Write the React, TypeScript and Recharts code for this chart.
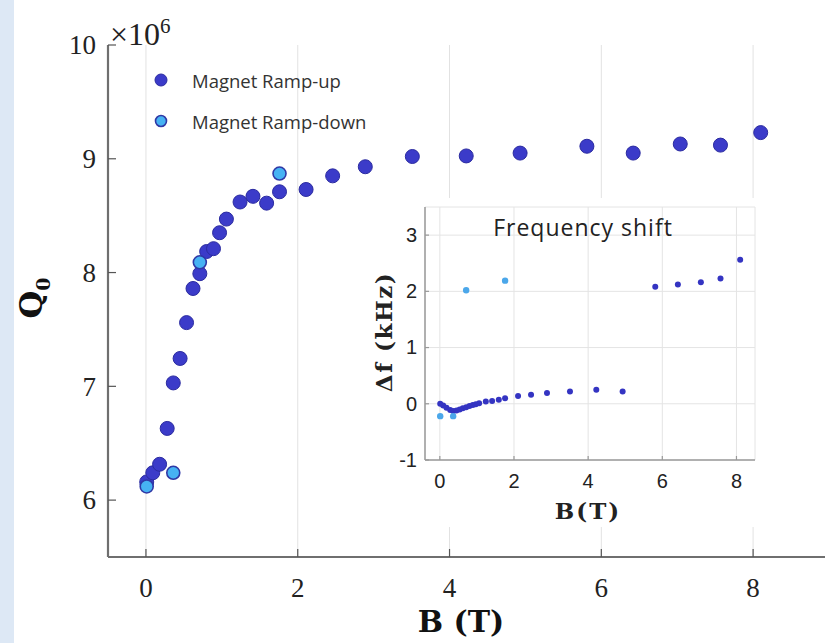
import React from 'react';
import { ScatterChart, Scatter, XAxis, YAxis, CartesianGrid } from 'recharts';

// magnetic field (T) for each measurement
const fieldUp = [0.01, 0.09, 0.18, 0.28, 0.36, 0.45, 0.535, 0.62, 0.71, 0.8, 0.89, 0.97, 1.06, 1.24, 1.41, 1.59, 1.76, 2.11, 2.46, 2.89, 3.51, 4.22, 4.93, 5.81, 6.42, 7.04, 7.57, 8.1];
const fieldDown = [0.01, 0.36, 0.71, 1.76];

// Q0 in units of 1e6
const qUp = [6.16, 6.24, 6.315, 6.63, 7.03, 7.245, 7.56, 7.86, 7.99, 8.185, 8.21, 8.35, 8.47, 8.62, 8.67, 8.61, 8.71, 8.73, 8.85, 8.93, 9.02, 9.025, 9.05, 9.11, 9.05, 9.13, 9.12, 9.23];
const qDown = [6.12, 6.24, 8.09, 8.87];

// frequency shift (kHz)
const shiftUp = [0, -0.03, -0.07, -0.11, -0.13, -0.12, -0.1, -0.08, -0.06, -0.04, -0.02, -0.01, 0.01, 0.04, 0.05, 0.07, 0.1, 0.14, 0.16, 0.19, 0.22, 0.25, 0.22, 2.08, 2.12, 2.16, 2.23, 2.56];
const shiftDown = [-0.22, -0.22, 2.02, 2.19];

const fieldTicks = [0, 2, 4, 6, 8];
const qTicks = [6, 7, 8, 9, 10];
const shiftTicks = [-1, 0, 1, 2, 3];

const serif = '"Liberation Serif", "Times New Roman", serif';
const boldSerif = '"DejaVu Serif", "Liberation Serif", serif';
const sans = '"Liberation Sans", Arial, sans-serif';
const legendFont = '"Open Sans", "Noto Sans", sans-serif';

const UP = '#3b3bc9';
const UP_EDGE = '#2b2ba0';
const DOWN = '#46b2f3';
const DOWN_EDGE = '#2f38a6';

const toPoints = (xs: number[], ys: number[]) => xs.map((x, i) => ({ x, y: ys[i] }));

const dot = (r: number, fill: string, stroke: string, sw: number) => (p: any) => (
    <circle cx={p.cx} cy={p.cy} r={r} fill={fill} stroke={stroke} strokeWidth={sw} />
);

// MATLAB style: tick marks point into the plot box
const makeTick = (side: 'left' | 'right' | 'top' | 'bottom', len: number, font: string, size: number, gap: number, showLabel: boolean, color: string) => (props: any) => {
    const { x, y, payload } = props;
    let line;
    let label = null;
    if (side === 'left') {
        line = <line x1={x} y1={y} x2={x + len} y2={y} stroke={color} strokeWidth={1.2} />;
        if (showLabel) label = <text x={x - gap} y={y + size * 0.34} textAnchor="end" fontFamily={font} fontSize={size} fill="#222">{payload.value}</text>;
    } else if (side === 'right') {
        line = <line x1={x} y1={y} x2={x - len} y2={y} stroke={color} strokeWidth={1.2} />;
    } else if (side === 'top') {
        line = <line x1={x} y1={y} x2={x} y2={y + len} stroke={color} strokeWidth={1.2} />;
    } else {
        line = <line x1={x} y1={y} x2={x} y2={y - len} stroke={color} strokeWidth={1.2} />;
        if (showLabel) label = <text x={x} y={y + gap} textAnchor="middle" fontFamily={font} fontSize={size} fill="#222">{payload.value}</text>;
    }
    return <g>{line}{label}</g>;
};

const MainChart = () => (
    <ScatterChart width={900} height={643} margin={{ top: 45, right: 71, bottom: 0, left: 0 }}>
        <CartesianGrid horizontal={false} stroke="#e2e2e2" strokeWidth={1} />
        <XAxis dataKey="x" type="number" domain={[-0.5, 9]} ticks={fieldTicks} allowDataOverflow height={86}
            tickSize={0} tickMargin={0} axisLine={{ stroke: '#6f6f6f', strokeWidth: 2.2 }} tickLine={false}
            tick={makeTick('bottom', 8, serif, 27, 40, true, '#555')} />
        <XAxis xAxisId="top" orientation="top" type="number" domain={[-0.5, 9]} ticks={fieldTicks} allowDataOverflow height={0}
            tickSize={0} tickMargin={0} axisLine={{ stroke: '#7a7a7a', strokeWidth: 1.6 }} tickLine={false}
            tick={makeTick('top', 8, serif, 27, 0, false, '#555')} />
        <YAxis dataKey="y" type="number" domain={[5.5, 10]} ticks={qTicks} allowDataOverflow width={108}
            tickSize={0} tickMargin={0} axisLine={{ stroke: '#6f6f6f', strokeWidth: 2.2 }} tickLine={false}
            tick={makeTick('left', 8, serif, 27, 12, true, '#555')} />
        <YAxis yAxisId="right" orientation="right" type="number" domain={[5.5, 10]} ticks={qTicks} allowDataOverflow width={0}
            tickSize={0} tickMargin={0} axisLine={{ stroke: '#7a7a7a', strokeWidth: 1.6 }} tickLine={false}
            tick={makeTick('right', 8, serif, 27, 0, false, '#555')} />
        <Scatter name="Magnet Ramp-up" data={toPoints(fieldUp, qUp)} shape={dot(7, UP, UP_EDGE, 1)} isAnimationActive={false} />
        <Scatter name="Magnet Ramp-down" data={toPoints(fieldDown, qDown)} shape={dot(6.5, DOWN, DOWN_EDGE, 1.6)} isAnimationActive={false} />
    </ScatterChart>
);

const InsetChart = () => (
    <ScatterChart width={397} height={329} margin={{ top: 9, right: 7, bottom: 0, left: 0 }}>
        <CartesianGrid stroke="#e4e4e4" strokeWidth={1} />
        <XAxis dataKey="x" type="number" domain={[-0.4, 8.5]} ticks={fieldTicks} allowDataOverflow height={67}
            tickSize={0} tickMargin={0} axisLine={{ stroke: '#9a9a9a', strokeWidth: 1.5 }} tickLine={false}
            tick={makeTick('bottom', 4, sans, 20, 28, true, '#999')} />
        <XAxis xAxisId="top" orientation="top" type="number" domain={[-0.4, 8.5]} ticks={fieldTicks} allowDataOverflow height={0}
            tickSize={0} tickMargin={0} axisLine={{ stroke: '#9a9a9a', strokeWidth: 1.5 }} tickLine={false}
            tick={makeTick('top', 4, sans, 20, 0, false, '#999')} />
        <YAxis dataKey="y" type="number" domain={[-1, 3.5]} ticks={shiftTicks} allowDataOverflow width={60}
            tickSize={0} tickMargin={0} axisLine={{ stroke: '#9a9a9a', strokeWidth: 1.5 }} tickLine={false}
            tick={makeTick('left', 4, sans, 20, 8, true, '#999')} />
        <YAxis yAxisId="right" orientation="right" type="number" domain={[-1, 3.5]} ticks={shiftTicks} allowDataOverflow width={0}
            tickSize={0} tickMargin={0} axisLine={{ stroke: '#9a9a9a', strokeWidth: 1.5 }} tickLine={false}
            tick={makeTick('right', 4, sans, 20, 0, false, '#999')} />
        <Scatter name="up" data={toPoints(fieldUp, shiftUp)} shape={dot(3, '#3434c2', '#3434c2', 0)} isAnimationActive={false} />
        <Scatter name="down" data={toPoints(fieldDown, shiftDown)} shape={dot(3.2, '#4ba7ea', '#4ba7ea', 0)} isAnimationActive={false} />
    </ScatterChart>
);

const abs = (left: number, top: number, extra: React.CSSProperties = {}): React.CSSProperties => ({
    position: 'absolute', left, top, ...extra
});

export default function App() {
    return (
        <div style={abs(0, 0, { width: 825, height: 643, overflow: 'hidden', background: '#ffffff' })}>
            <div style={abs(0, 0, { width: 14, height: 643, background: '#dde8f5' })} />
            <div style={abs(0, 0)}>
                <MainChart />
            </div>

            {/* exponent */}
            <div style={abs(110, 6, { fontFamily: serif, fontSize: 32, color: '#222', whiteSpace: 'nowrap', lineHeight: '40px' })}>
                ×10<sup style={{ fontSize: 21 }}>6</sup>
            </div>

            {/* y label */}
            <div style={abs(33, 298, { transform: 'translate(-50%, -50%) rotate(-90deg)', fontFamily: boldSerif, fontWeight: 'bold', fontSize: 32, color: '#111', whiteSpace: 'nowrap' })}>
                Q<sub style={{ fontSize: 19 }}>0</sub>
            </div>

            {/* x label */}
            <div style={abs(461, 621, { transform: 'translate(-50%, -50%)', fontFamily: boldSerif, fontWeight: 'bold', fontSize: 30, color: '#111', whiteSpace: 'nowrap' })}>
                B (T)
            </div>

            {/* legend */}
            <div style={abs(150, 66, { fontFamily: legendFont, fontSize: 18.5, color: '#333' })}>
                <div style={{ display: 'flex', alignItems: 'center', height: 28 }}>
                    <svg width={24} height={20}><circle cx={11} cy={10} r={6} fill={UP} stroke={UP_EDGE} strokeWidth={1} /></svg>
                    <span style={{ marginLeft: 18 }}>Magnet Ramp-up</span>
                </div>
                <div style={{ display: 'flex', alignItems: 'center', height: 28, marginTop: 13 }}>
                    <svg width={24} height={20}><circle cx={11} cy={10} r={5.5} fill={DOWN} stroke={DOWN_EDGE} strokeWidth={1.6} /></svg>
                    <span style={{ marginLeft: 18 }}>Magnet Ramp-down</span>
                </div>
            </div>

            {/* inset */}
            <div style={abs(365, 198, { width: 397, height: 329, background: '#ffffff' })}>
                <InsetChart />
                <div style={abs(218, 29, { transform: 'translate(-50%, -50%)', fontFamily: legendFont, fontSize: 23, letterSpacing: 1, color: '#222', whiteSpace: 'nowrap' })}>
                    Frequency shift
                </div>
                <div style={abs(18, 134, { transform: 'translate(-50%, -50%) rotate(-90deg)', fontFamily: boldSerif, fontWeight: 'bold', fontSize: 23, letterSpacing: 1.5, color: '#222', whiteSpace: 'nowrap' })}>
                    Δf (kHz)
                </div>
                <div style={abs(223, 313, { transform: 'translate(-50%, -50%)', fontFamily: boldSerif, fontWeight: 'bold', fontSize: 23, letterSpacing: 2, color: '#222', whiteSpace: 'nowrap', lineHeight: '26px' })}>
                    B(T)
                </div>
            </div>
        </div>
    );
}
